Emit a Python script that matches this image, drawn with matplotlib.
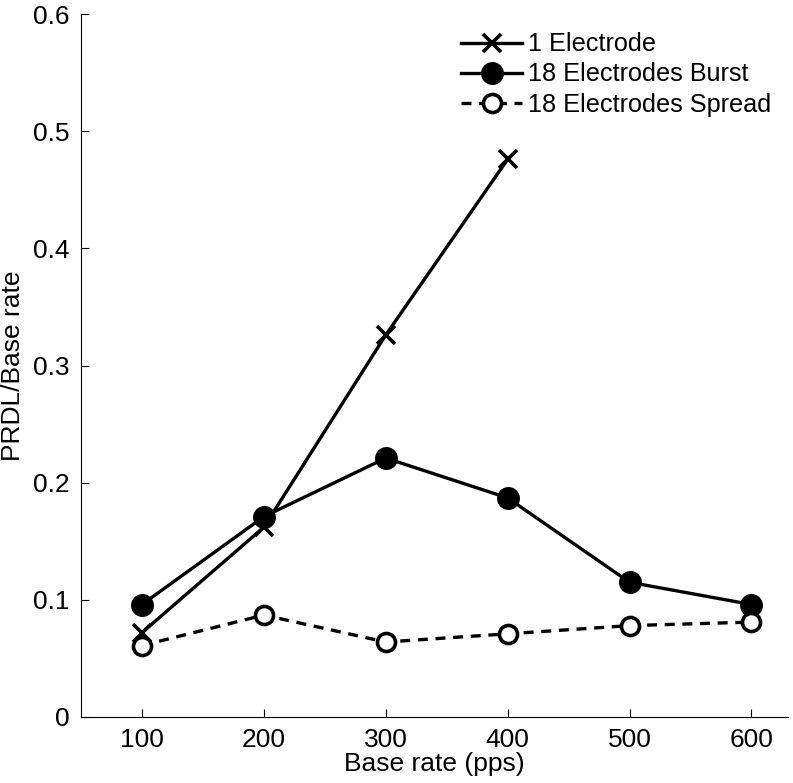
import matplotlib.pyplot as plt

plt.rcParams['font.family'] = ['Liberation Sans', 'DejaVu Sans']

base_rate = [100, 200, 300, 400, 500, 600]
one_electrode = [0.072, 0.162, 0.326, 0.476]
burst = [0.096, 0.171, 0.221, 0.187, 0.115, 0.096]
spread = [0.061, 0.087, 0.064, 0.071, 0.078, 0.081]

fig = plt.figure(figsize=(7.93, 7.83), dpi=100)
ax = fig.add_axes([81 / 793, 66 / 783, 707 / 793, 703 / 783])

ax.plot(base_rate[:4], one_electrode, color='black', lw=2.4, marker='x',
        markersize=13, markeredgewidth=2.6, label='1 Electrode')
ax.plot(base_rate, burst, color='black', lw=2.4, marker='o',
        markersize=15.5, label='18 Electrodes Burst')
ax.plot(base_rate, spread, color='black', lw=2.4, ls=(0, (3, 2.3)), marker='o',
        markersize=13, markerfacecolor='white', markeredgewidth=2.6,
        label='18 Electrodes Spread')

ax.set_xlim(50, 630)
ax.set_ylim(0, 0.6)
ax.set_xticks(base_rate)
ax.set_yticks([0, 0.1, 0.2, 0.3, 0.4, 0.5, 0.6])
ax.set_yticklabels(['0', '0.1', '0.2', '0.3', '0.4', '0.5', '0.6'])
ax.tick_params(direction='in', length=6, labelsize=19, pad=8)
ax.spines['top'].set_visible(False)
ax.spines['right'].set_visible(False)
ax.set_xlabel('Base rate (pps)', fontsize=19, labelpad=0)
ax.set_ylabel('PRDL/Base rate', fontsize=19, labelpad=6)

ax.legend(loc='upper right', bbox_to_anchor=(0.984, 0.981), frameon=False,
          fontsize=18.2, handlelength=2.4, handletextpad=0.25,
          labelspacing=0.24, borderaxespad=0.0, borderpad=0.2)

fig.savefig('out.png', dpi=100)
